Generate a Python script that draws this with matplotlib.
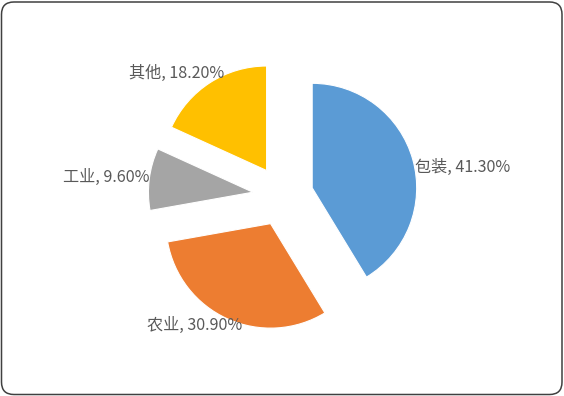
import matplotlib
matplotlib.use("Agg")
import matplotlib.pyplot as plt
from matplotlib.patches import FancyBboxPatch

plt.rcParams['font.family'] = ['Noto Sans CJK SC', 'DejaVu Sans']

# ── Data ─────────────────────────────────────────────────────────────
labels = ["包装", "农业", "工业", "其他"]
values = [41.3, 30.9, 9.6, 18.2]
colors = ["#5B9BD5", "#ED7D31", "#A5A5A5", "#FFC000"]

# label anchors (data units, pie radius = 1) and alignment
label_pos = [(1.265, 0.27, "left"), (-0.85, -1.24, "center"),
             (-1.275, 0.18, "right"), (-0.565, 1.17, "right")]

# ── Figure ───────────────────────────────────────────────────────────
W, H = 5.64, 3.96
fig = plt.figure(figsize=(W, H), dpi=100)
fig.patch.set_facecolor("white")

# rounded border (outline only, drawn over the axes)
border = FancyBboxPatch((1.5 / 564, 1.5 / 396), 1 - 3.5 / 564, 1 - 3.5 / 396,
                        boxstyle="round,pad=0,rounding_size=0.022",
                        transform=fig.transFigure, facecolor="none",
                        edgecolor="#404040", linewidth=1.1,
                        mutation_aspect=564 / 396)
fig.patches.append(border)

ax = fig.add_axes([0, 0, 1, 1])
ax.set_facecolor("none")
scale = 104.5          # px per unit radius
cx, cy = 283.0, 196.0  # pie centre in px (from top-left)

ax.pie(values, colors=colors, startangle=90, counterclock=False,
       explode=[0.29] * len(values), radius=1.0,
       wedgeprops=dict(edgecolor="white", linewidth=0.8))

ax.set_xlim(-cx / scale, (564 - cx) / scale)
ax.set_ylim(-(396 - cy) / scale, cy / scale)
ax.set_aspect("equal")
ax.axis("off")

for name, v, (x, y, ha) in zip(labels, values, label_pos):
    ax.text(x, y, f"{name}, {v:.2f}%", ha=ha, va="center",
            fontsize=11.6, color="#595959")

fig.savefig("out.png", dpi=100, facecolor="white")
